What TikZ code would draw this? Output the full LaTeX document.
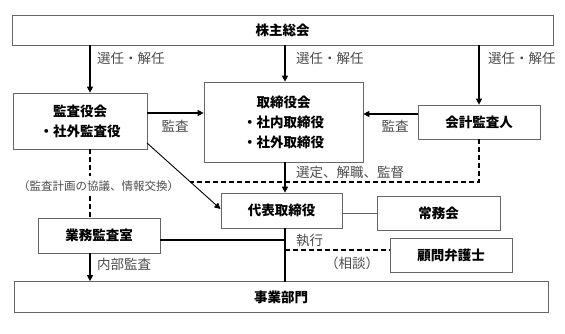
\documentclass[tikz,border=0pt]{standalone}
\usepackage{fontspec}
\newfontfamily\jp{Noto Sans CJK JP}
\usetikzlibrary{arrows.meta}
\tikzset{
  box/.style={draw=black!60, line width=0.7pt, inner sep=0pt, font=\jp\bfseries\fontsize{13.5}{17}\selectfont, align=center},
  lbl/.style={text=black!70, inner sep=0pt, font=\jp\fontsize{13.5}{16}\selectfont},
  conn/.style={line width=1.1pt, draw=black},
  arr/.style={conn, -{Triangle[length=6pt,width=6pt]}},
  dsh/.style={conn, dash pattern=on 5pt off 3pt},
}
\begin{document}
\begin{tikzpicture}[x=1pt,y=-1pt]
\useasboundingbox (0,0) rectangle (565,334);
% boxes
\node[box, minimum width=541pt, minimum height=30pt] (kabu) at (282.5,30) {株主総会};
\node[box, minimum width=134pt, minimum height=56pt] (kansa) at (80,121) {監査役会\\[3pt]・社外監査役};
\node[box, minimum width=159pt, minimum height=80pt] (tori) at (283.5,122) {取締役会\\[3pt]・社内取締役\\[3pt]・社外取締役};
\node[box, minimum width=122pt, minimum height=34pt] (kaikei) at (479,122) {会計監査人};
\node[box, minimum width=121pt, minimum height=35pt] (daihyo) at (281.5,210.5) {代表取締役};
\node[box, minimum width=123pt, minimum height=34pt] (jomu) at (438.5,213) {常務会};
\node[box, minimum width=122pt, minimum height=34pt] (komon) at (451,255) {顧問弁護士};
\node[box, minimum width=122pt, minimum height=35pt] (gyomu) at (99,235.5) {業務監査室};
\node[box, minimum width=534pt, minimum height=31pt] (jigyo) at (281,297) {事業部門};
% coordinates
\coordinate (k1) at (90,45);
\coordinate (k2) at (285,45);
\coordinate (k3) at (479,45);
\coordinate (dcorner) at (479,182);
\coordinate (dleft) at (190,182);
\coordinate (diag1) at (147,143);
\coordinate (diag2) at (220.5,209);
\coordinate (vtop) at (285,228);
\coordinate (vbot) at (285,281.5);
\coordinate (vmid) at (285,240);
\coordinate (vdash) at (285,250);
% connectors
\draw[arr] (k1) -- (kansa.north -| k1);
\draw[arr] (k2) -- (tori.north -| k2);
\draw[arr] (k3) -- (kaikei.north);
\draw[arr] (kansa.east |- 0,113) -- (tori.west |- 0,113);
\draw[arr] (kaikei.west |- 0,114) -- (tori.east |- 0,114);
\draw[arr] (tori.south -| k2) -- (daihyo.north -| k2);
\draw[dsh] (kaikei.south) -- (dcorner) -- (dleft);
\draw[arr, line width=0.9pt] (diag1) -- (diag2);
\draw[conn, line width=0.7pt, draw=black!60] (daihyo.east |- 0,213) -- (jomu.west);
\draw[conn] (vtop) -- (vbot);
\draw[conn] (gyomu.east |- vmid) -- (vmid);
\draw[dsh] (vdash) -- (komon.west |- vdash);
\draw[dsh] (kansa.south -| k1) -- (90,176);
\draw[dsh] (90,196) -- (gyomu.north -| k1);
\draw[arr] (gyomu.south -| k1) -- (jigyo.north -| k1);
% labels
\node[lbl, anchor=west] (l1) at (97,58) {選任・解任};
\node[lbl, anchor=west] (l2) at (296,58) {選任・解任};
\node[lbl, anchor=west] (l3) at (488,58) {選任・解任};
\node[lbl] (l4) at (175,126) {監査};
\node[lbl] (l5) at (395,126) {監査};
\node[lbl, anchor=west] (l6) at (296,172) {選定、解職、監督};
\node[lbl, font=\jp\fontsize{11.5}{13}\selectfont, anchor=west] (l7) at (18,186) {（監査計画の協議、情報交換）};
\node[lbl, anchor=west] (l8) at (296,240) {執行};
\node[lbl] (l9) at (352,263) {（相談）};
\node[lbl, anchor=west] (l10) at (97,264) {内部監査};
\end{tikzpicture}
\end{document}
